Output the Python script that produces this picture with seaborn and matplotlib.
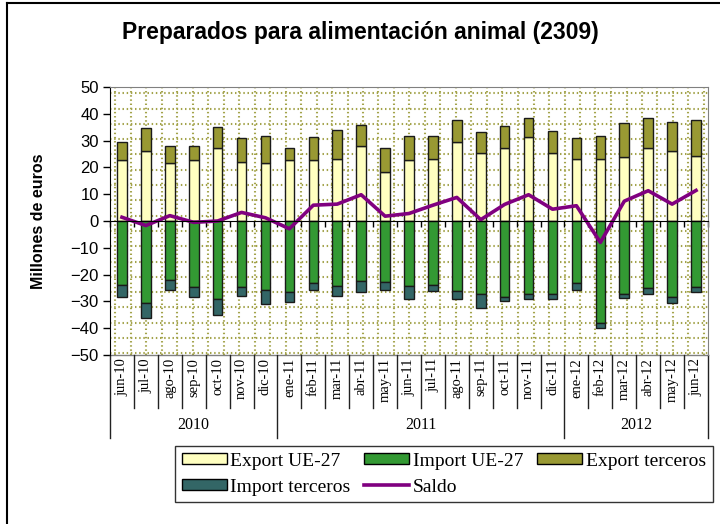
import numpy as np
import matplotlib
matplotlib.use("Agg")
import matplotlib.pyplot as plt
import matplotlib.transforms as mtransforms
from matplotlib.lines import Line2D
from matplotlib.patches import Patch
import seaborn as sns

# datos (millones de euros)
months = ["jun-10", "jul-10", "ago-10", "sep-10", "oct-10", "nov-10", "dic-10",
          "ene-11", "feb-11", "mar-11", "abr-11", "may-11", "jun-11", "jul-11",
          "ago-11", "sep-11", "oct-11", "nov-11", "dic-11",
          "ene-12", "feb-12", "mar-12", "abr-12", "may-12", "jun-12"]
export_ue = [22.6, 26.0, 21.5, 22.6, 27.3, 22.0, 21.5,
             22.6, 22.6, 23.3, 27.9, 18.3, 22.6, 23.3,
             29.6, 25.2, 27.3, 31.4, 25.4,
             23.0, 23.0, 23.8, 27.3, 26.0, 24.2]
export_terceros = [7.0, 8.6, 6.4, 5.3, 7.8, 9.0, 10.4,
                   4.7, 8.8, 10.8, 8.0, 9.0, 9.3, 8.6,
                   8.2, 8.0, 8.3, 7.2, 8.1,
                   8.0, 8.6, 12.7, 11.3, 10.8, 13.6]
import_ue = [-23.8, -30.6, -22.0, -24.8, -29.1, -24.8, -25.6,
             -26.4, -23.2, -24.2, -22.3, -22.7, -24.2, -23.7,
             -26.0, -27.3, -28.3, -27.4, -27.4,
             -23.2, -38.1, -27.4, -24.9, -28.3, -24.6]
import_terceros = [-4.5, -5.7, -3.9, -3.5, -6.0, -3.1, -5.5,
                   -3.7, -2.4, -3.7, -4.1, -2.9, -4.9, -2.3,
                   -3.1, -5.3, -1.5, -1.7, -1.7,
                   -2.4, -1.7, -1.5, -2.5, -2.2, -1.8]
saldo = [1.4, -1.7, 2.0, -0.5, 0.0, 3.2, 1.2,
         -2.9, 5.9, 6.3, 9.8, 1.8, 2.8, 5.9,
         8.8, 0.5, 6.2, 9.8, 4.4,
         5.7, -8.0, 7.4, 11.3, 6.3, 11.4]

c_exp_ue = "#FFFFC0"
c_imp_ue = "#339933"
c_exp_ter = "#999933"
c_imp_ter = "#336666"
c_saldo = "#800080"

plt.rcParams["font.family"] = ["Liberation Sans", "DejaVu Sans"]
serif = ["Liberation Serif", "DejaVu Serif"]

W, H = 720, 524
fig = plt.figure(figsize=(7.2, 5.24), dpi=100)
ax = fig.add_axes([110 / W, 1 - 355 / H, 598 / W, 268 / H])

n = len(months)
bar_kw = dict(ax=ax, width=0.4, edgecolor="#1a1a1a", linewidth=1.0,
              saturation=1, errorbar=None, zorder=3)
sns.barplot(x=months, y=export_ue, color=c_exp_ue, **bar_kw)
sns.barplot(x=months, y=export_terceros, bottom=export_ue, color=c_exp_ter, **bar_kw)
sns.barplot(x=months, y=import_ue, color=c_imp_ue, **bar_kw)
sns.barplot(x=months, y=import_terceros, bottom=import_ue, color=c_imp_ter, **bar_kw)
sns.lineplot(x=np.arange(n), y=saldo, color=c_saldo, linewidth=2.6, ax=ax, zorder=4)

ax.set_xlim(-0.5, n - 0.5)
ax.set_ylim(-50, 50)
ax.set_yticks(np.arange(-50, 51, 10))
ax.tick_params(axis="y", direction="out", length=5, width=1, labelsize=12, pad=3)
ax.set_xlabel("")
ax.set_ylabel("Millones de euros", fontsize=11.5, fontweight="bold")
ax.yaxis.set_label_coords(-64 / 598, 0.5)

# horizontal axis at zero with ticks between categories
ax.spines["bottom"].set_position(("data", 0))
ax.spines["bottom"].set_color("black")
ax.spines["bottom"].set_zorder(5)
ax.set_xticks(np.arange(-0.5, n, 1))
ax.set_xticklabels([])
ax.tick_params(axis="x", direction="out", length=4, width=1)
ax.spines["left"].set_color("black")
for s in ["top", "right"]:
    ax.spines[s].set_color("#808080")
ax.plot([0, 1], [0, 0], transform=ax.transAxes, color="#808080", lw=1, clip_on=False)

# dotted pattern fill of the plot area
pat = dict(transform=ax.transAxes, color="#A3A34A", lw=1.5,
           linestyle=(0, (0.7, 1.3)), zorder=1)
for f in np.arange(1 - 6.3 / 268, 0, -15.3 / 268):
    ax.plot([0, 1], [f, f], **pat)
for f in np.arange(5 / 598, 1, 15.5 / 598):
    ax.plot([f, f], [0, 1], **pat)

# category table below the plot
trans = mtransforms.blended_transform_factory(ax.transData, ax.transAxes)
years = ["20" + m.split("-")[1] for m in months]
for i, m in enumerate(months):
    ax.text(i, -3 / 268, m, rotation=90, ha="center", va="top",
            fontsize=10.5, family=serif, transform=trans)
for i in range(n + 1):
    edge = i == 0 or i == n or years[i] != years[i - 1]
    y1 = -83 / 268 if edge else -53 / 268
    ax.plot([i - 0.5, i - 0.5], [0, y1], transform=trans, color="#222222",
            lw=1, clip_on=False)
for y in sorted(set(years)):
    idx = [i for i, v in enumerate(years) if v == y]
    ax.text(np.mean(idx), -70 / 268, y, ha="center", va="center",
            fontsize=11.5, family=serif, transform=trans)

fig.text(360 / W, 1 - 33 / H, "Preparados para alimentación animal (2309)",
         ha="center", va="center", fontsize=16.5, fontweight="bold")

handles = [Patch(facecolor=c_exp_ue, edgecolor="black", label="Export UE-27"),
           Patch(facecolor=c_imp_ter, edgecolor="black", label="Import terceros"),
           Patch(facecolor=c_imp_ue, edgecolor="black", label="Import UE-27"),
           Line2D([], [], color=c_saldo, lw=2.6, label="Saldo"),
           Patch(facecolor=c_exp_ter, edgecolor="black", label="Export terceros")]
leg = fig.legend(handles=handles, ncol=3, loc="upper left",
                 bbox_to_anchor=(175 / W, 1 - 446 / H), frameon=True,
                 fancybox=False, edgecolor="black", prop={"family": serif, "size": 14},
                 handlelength=2.3, handleheight=0.5, handletextpad=0.2,
                 columnspacing=0.7, labelspacing=0.45, borderpad=0.35,
                 borderaxespad=0)
leg.get_frame().set_linewidth(1)

fig.add_artist(Line2D([7 / W, 7 / W], [0, 1 - 3 / H], transform=fig.transFigure,
                      color="black", lw=1.5))
fig.add_artist(Line2D([7 / W, 1], [1 - 3 / H, 1 - 3 / H], transform=fig.transFigure,
                      color="black", lw=1.5))

fig.savefig("out.png", dpi=100)
